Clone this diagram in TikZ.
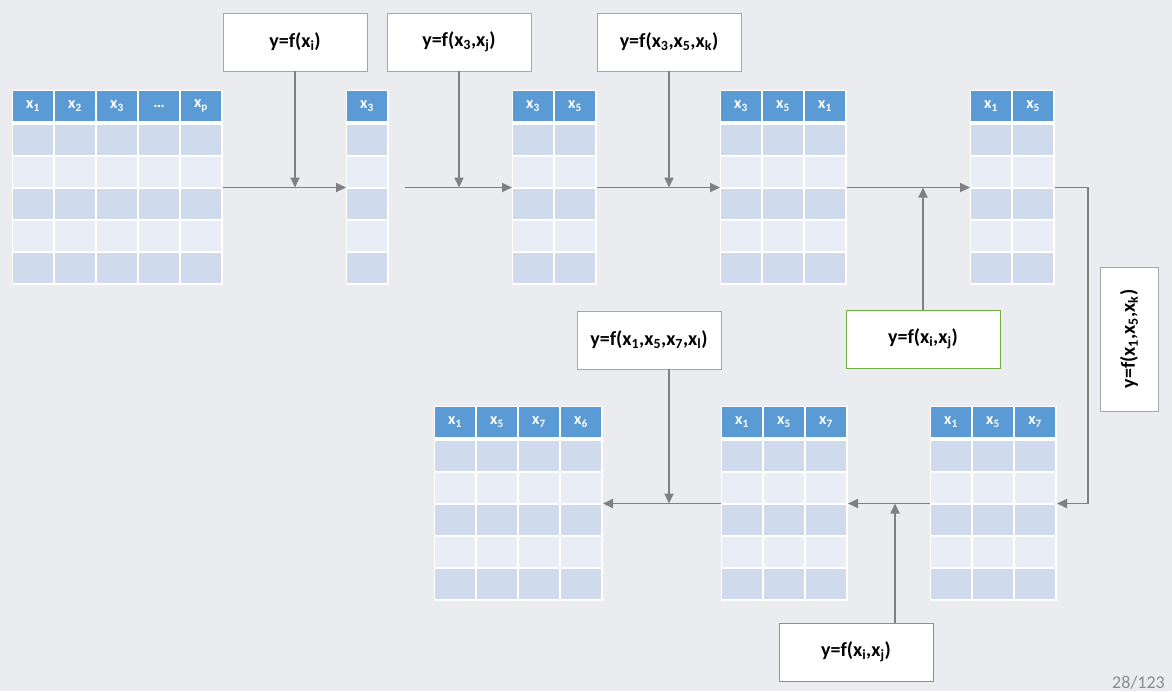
\documentclass[tikz,border=0pt]{standalone}
\usepackage{fontspec}
\setmainfont{Carlito}
\usetikzlibrary{arrows.meta,calc}
\definecolor{bg}{HTML}{EBECF0}
\definecolor{hdr}{HTML}{5B9BD5}
\definecolor{rowA}{HTML}{CFDAEC}
\definecolor{rowB}{HTML}{E9EDF5}
\definecolor{arrowgray}{HTML}{808080}
\definecolor{boxgray}{HTML}{A6A6A6}
\definecolor{boxgreen}{HTML}{70AD47}
\definecolor{pagegray}{HTML}{8C8C8C}
\newcommand\sbx[1]{\textsubscript{#1}}
\tikzset{
  tablebg/.style={fill=white, draw=none, inner sep=0pt, outer sep=0pt, minimum height=195pt},
  hdrtext/.style={text=white, font=\fontsize{16}{19}\selectfont\bfseries, inner sep=0pt},
  fbox/.style={draw=boxgray, fill=white, line width=0.8pt, inner sep=0pt, outer sep=0pt,
    minimum width=144pt, minimum height=58pt, font=\fontsize{20}{24}\selectfont\bfseries},
  gbox/.style={fbox, draw=boxgreen, minimum width=154pt},
  arr/.style={draw=arrowgray, line width=1.8pt, -{Triangle[length=10pt,width=9pt]}},
}
\newcommand\datatable[5]{%
  \node[tablebg, anchor=north west, minimum width={#4*42+1}] (#1) at (#2,#3) {};
  \foreach \lab [count=\c from 0] in {#5} {
    \fill[hdr] ({#2+1+\c*42},{#3+1}) rectangle ++(40,30);
    \node[hdrtext] (#1h\c) at ({#2+1+\c*42+20},{#3+16}) {\lab};
    \foreach \r/\col in {0/rowA,1/rowB,2/rowA,3/rowB,4/rowA}
      \fill[\col] ({#2+1+\c*42},{#3+35+\r*32}) rectangle ++(40,30);
  }
}
\begin{document}
\begin{tikzpicture}[x=1pt,y=-1pt]
\fill[bg] (0,0) rectangle (1172,691);
\useasboundingbox (0,0) rectangle (1172,691);

% tables
\datatable{T1}{12}{90}{5}{x\sbx{1},x\sbx{2},x\sbx{3},\dots,x\sbx{p}}
\datatable{T2}{346}{90}{1}{x\sbx{3}}
\datatable{T3}{512}{90}{2}{x\sbx{3},x\sbx{5}}
\datatable{T4}{720}{90}{3}{x\sbx{3},x\sbx{5},x\sbx{1}}
\datatable{T5}{970}{90}{2}{x\sbx{1},x\sbx{5}}
\datatable{T6}{434}{406}{4}{x\sbx{1},x\sbx{5},x\sbx{7},x\sbx{6}}
\datatable{T7}{721}{406}{3}{x\sbx{1},x\sbx{5},x\sbx{7}}
\datatable{T8}{930}{406}{3}{x\sbx{1},x\sbx{5},x\sbx{7}}

% formula boxes
\node[fbox] (F1) at (295,42) {y=f(x\sbx{i})};
\node[fbox] (F2) at (459,42) {y=f(x\sbx{3},x\sbx{j})};
\node[fbox] (F3) at (669,42) {y=f(x\sbx{3},x\sbx{5},x\sbx{k})};
\node[gbox] (F4) at (923,339) {y=f(x\sbx{i},x\sbx{j})};
\node[fbox, rotate=90] (F5) at (1129,339) {y=f(x\sbx{1},x\sbx{5},x\sbx{k})};
\node[fbox] (F6) at (649,340) {y=f(x\sbx{1},x\sbx{5},x\sbx{7},x\sbx{l})};
\node[gbox] (F7) at (856,652) {y=f(x\sbx{i},x\sbx{j})};

% page number
\node[anchor=south east, text=pagegray, font=\fontsize{18}{21}\selectfont, inner sep=0pt] (pg) at (1165,689) {28/123};

% connectors
\coordinate (S2) at (405,187.5);
\coordinate (C5) at (1088,187.5);
\coordinate (F6a) at (669,369);
\coordinate (F7a) at (895,623);

\draw[arr] (T1) -- (T2);
\draw[arr] (F1.south) -- (F1.south |- T1.east);
\draw[arr] (S2) -- (T3.west);
\draw[arr] (F2.south) -- (F2.south |- T3.west);
\draw[arr] (T3) -- (T4);
\draw[arr] (F3.south) -- (F3.south |- T4.east);
\draw[arr] (T4) -- (T5);
\draw[arr] (F4.north) -- (F4.north |- T5.west);
\draw[arr] (T5.east) -- (C5) |- (T8.east);
\draw[arr] (T8) -- (T7);
\draw[arr] (F7a) -- (F7a |- T7.east);
\draw[arr] (T7) -- (T6);
\draw[arr] (F6a) -- (F6a |- T6.east);
\end{tikzpicture}
\end{document}
